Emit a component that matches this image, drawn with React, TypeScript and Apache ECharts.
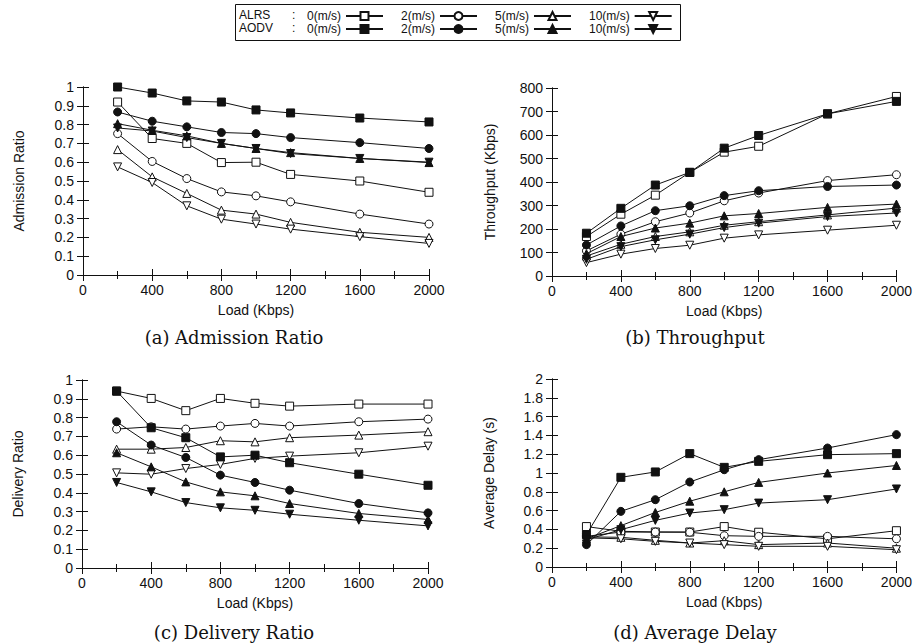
import React, { useEffect, useRef } from "react";
import * as echarts from "echarts";

const loads = [200, 400, 600, 800, 1000, 1200, 1600, 2000];
const speedNames = ["0(m/s)", "2(m/s)", "5(m/s)", "10(m/s)"];
const protocols = ["ALRS", "AODV"];

// (a) Admission Ratio
const admAlrs0 = [0.92, 0.726, 0.7, 0.598, 0.6, 0.535, 0.5, 0.44];
const admAlrs2 = [0.752, 0.604, 0.513, 0.442, 0.421, 0.389, 0.324, 0.271];
const admAlrs5 = [0.667, 0.522, 0.434, 0.345, 0.324, 0.28, 0.227, 0.2];
const admAlrs10 = [0.575, 0.492, 0.368, 0.297, 0.271, 0.244, 0.204, 0.168];
const admAodv0 = [1.0, 0.968, 0.926, 0.92, 0.878, 0.862, 0.835, 0.814];
const admAodv2 = [0.867, 0.818, 0.788, 0.758, 0.752, 0.731, 0.704, 0.673];
const admAodv5 = [0.805, 0.77, 0.74, 0.7, 0.673, 0.651, 0.62, 0.598];
const admAodv10 = [0.782, 0.766, 0.731, 0.7, 0.673, 0.646, 0.62, 0.6];

// (b) Throughput (Kbps)
const thrAlrs0 = [168, 263, 344, 441, 527, 552, 690, 764];
const thrAlrs2 = [107, 178, 231, 268, 320, 353, 406, 431];
const thrAlrs5 = [85, 135, 168, 188, 216, 231, 260, 289];
const thrAlrs10 = [57, 93, 117, 131, 161, 175, 195, 216];
const thrAodv0 = [182, 288, 387, 441, 544, 598, 690, 743];
const thrAodv2 = [132, 213, 278, 299, 342, 363, 381, 387];
const thrAodv5 = [95, 168, 204, 225, 256, 266, 292, 306];
const thrAodv10 = [71, 125, 154, 178, 206, 225, 253, 268];

// (c) Delivery Ratio
const delAlrs0 = [0.941, 0.902, 0.837, 0.902, 0.876, 0.861, 0.872, 0.872];
const delAlrs2 = [0.739, 0.751, 0.739, 0.755, 0.769, 0.755, 0.778, 0.792];
const delAlrs5 = [0.632, 0.632, 0.641, 0.677, 0.671, 0.693, 0.707, 0.725];
const delAlrs10 = [0.506, 0.499, 0.529, 0.551, 0.583, 0.595, 0.613, 0.648];
const delAodv0 = [0.941, 0.746, 0.693, 0.591, 0.6, 0.56, 0.499, 0.44];
const delAodv2 = [0.778, 0.654, 0.588, 0.494, 0.455, 0.414, 0.343, 0.293];
const delAodv5 = [0.613, 0.538, 0.458, 0.405, 0.384, 0.343, 0.29, 0.258];
const delAodv10 = [0.455, 0.405, 0.348, 0.32, 0.307, 0.286, 0.254, 0.224];

// (d) Average Delay (s)
const dlyAlrs0 = [0.43, 0.38, 0.372, 0.372, 0.43, 0.37, 0.3, 0.386];
const dlyAlrs2 = [0.326, 0.372, 0.372, 0.37, 0.333, 0.326, 0.326, 0.3];
const dlyAlrs5 = [0.32, 0.316, 0.284, 0.255, 0.28, 0.238, 0.255, 0.2];
const dlyAlrs10 = [0.31, 0.3, 0.273, 0.255, 0.238, 0.22, 0.22, 0.184];
const dlyAodv0 = [0.344, 0.954, 1.011, 1.206, 1.06, 1.124, 1.195, 1.206];
const dlyAodv2 = [0.238, 0.592, 0.716, 0.904, 1.035, 1.142, 1.266, 1.408];
const dlyAodv5 = [0.3, 0.44, 0.58, 0.7, 0.8, 0.9, 1.0, 1.08];
const dlyAodv10 = [0.29, 0.397, 0.496, 0.574, 0.61, 0.68, 0.716, 0.83];

const panelTitles = ["(a) Admission Ratio", "(b) Throughput", "(c) Delivery Ratio", "(d) Average Delay"];
const yNames = ["Admission Ratio", "Throughput (Kbps)", "Delivery Ratio", "Average Delay (s)"];
const xName = "Load (Kbps)";

const panelData = [
  [[admAlrs0, admAlrs2, admAlrs5, admAlrs10], [admAodv0, admAodv2, admAodv5, admAodv10]],
  [[thrAlrs0, thrAlrs2, thrAlrs5, thrAlrs10], [thrAodv0, thrAodv2, thrAodv5, thrAodv10]],
  [[delAlrs0, delAlrs2, delAlrs5, delAlrs10], [delAodv0, delAodv2, delAodv5, delAodv10]],
  [[dlyAlrs0, dlyAlrs2, dlyAlrs5, dlyAlrs10], [dlyAodv0, dlyAodv2, dlyAodv5, dlyAodv10]],
];

const yRanges = [
  { min: 0, max: 1, interval: 0.1 },
  { min: 0, max: 800, interval: 100 },
  { min: 0, max: 1, interval: 0.1 },
  { min: 0, max: 2, interval: 0.2 },
];

const FONT = "'Liberation Sans', Arial, Helvetica, sans-serif";
const SERIF = "'DejaVu Serif', serif";
const INK = "#111";

const grids = [
  { left: 83, top: 87, width: 346, height: 188 },
  { left: 552, top: 88, width: 346, height: 188 },
  { left: 82, top: 380, width: 346, height: 188 },
  { left: 552, top: 379, width: 346, height: 188 },
];
const yNameGaps = [57, 55, 57, 56];
const captionPos = [
  { x: 234, y: 337 },
  { x: 695, y: 337 },
  { x: 234, y: 632 },
  { x: 695, y: 632 },
];

const symbols = ["rect", "circle", "triangle", "path://M0,0L2,0L1,1.8Z"];
const symbolSizes = [8, 8, 8, 8];

function buildOption() {
  const xAxis: any[] = [];
  const yAxis: any[] = [];
  const series: any[] = [];
  const lineAx = { show: true, lineStyle: { color: INK, width: 1 } };
  const tick = { show: true, inside: true, length: 6, lineStyle: { color: INK, width: 1 } };
  const plain = (v: number) => String(Math.round(v * 1000) / 1000);

  grids.forEach((g, gi) => {
    xAxis.push({
      type: "value",
      gridIndex: gi,
      position: "bottom",
      min: 0,
      max: 2000,
      interval: 400,
      name: xName,
      nameLocation: "middle",
      nameGap: 28,
      nameTextStyle: { fontFamily: FONT, fontSize: 14, color: INK },
      axisLine: lineAx,
      axisTick: tick,
      minorTick: { show: true, splitNumber: 2, length: 4, lineStyle: { color: INK, width: 1 } },
      splitLine: { show: false },
      axisLabel: { margin: 8, fontFamily: FONT, fontSize: 14, color: INK, formatter: plain },
    });
    xAxis.push({
      type: "value",
      gridIndex: gi,
      position: "top",
      min: 0,
      max: 2000,
      interval: 400,
      axisLine: lineAx,
      axisTick: tick,
      minorTick: { show: true, splitNumber: 2, length: 4, lineStyle: { color: INK, width: 1 } },
      splitLine: { show: false },
      axisLabel: { show: false },
    });
    const r = yRanges[gi];
    yAxis.push({
      type: "value",
      gridIndex: gi,
      position: "left",
      min: r.min,
      max: r.max,
      interval: r.interval,
      name: yNames[gi],
      nameLocation: "middle",
      nameGap: yNameGaps[gi],
      nameTextStyle: { fontFamily: FONT, fontSize: 14, color: INK },
      axisLine: lineAx,
      axisTick: tick,
      splitLine: { show: false },
      axisLabel: { margin: 9, fontFamily: FONT, fontSize: 14, color: INK, formatter: plain },
    });
    yAxis.push({
      type: "value",
      gridIndex: gi,
      position: "right",
      min: r.min,
      max: r.max,
      interval: r.interval,
      axisLine: lineAx,
      axisTick: tick,
      splitLine: { show: false },
      axisLabel: { show: false },
    });

    protocols.forEach((p, pi) => {
      speedNames.forEach((s, si) => {
        const vals = panelData[gi][pi][si];
        const filled = pi === 1;
        series.push({
          type: "line",
          name: p + " " + s,
          xAxisIndex: gi * 2,
          yAxisIndex: gi * 2,
          data: loads.map((l, i) => [l, vals[i]]),
          symbol: symbols[si],
          symbolSize: symbolSizes[si],
          showSymbol: true,
          lineStyle: { color: INK, width: 1 },
          itemStyle: filled
            ? { color: INK, borderColor: INK, borderWidth: 1 }
            : { color: "#fff", borderColor: INK, borderWidth: 1 },
          emphasis: { disabled: true },
          z: filled ? 3 : 2,
        });
      });
    });
  });

  const legendBase = {
    left: 307,
    itemWidth: 37,
    itemHeight: 10,
    itemGap: 17,
    align: "right",
    padding: 0,
    selectedMode: false,
    formatter: (n: string) => n.split(" ")[1],
    textStyle: { fontFamily: FONT, fontSize: 12, color: INK },
  };

  const graphic: any[] = [
    {
      type: "rect",
      shape: { x: 235.5, y: 4.5, width: 445, height: 36 },
      style: { fill: "none", stroke: INK, lineWidth: 1 },
      silent: true,
    },
    { type: "text", x: 239, y: 15, style: { text: "ALRS", font: `12px ${FONT}`, fill: INK, verticalAlign: "middle" } },
    { type: "text", x: 292, y: 15, style: { text: ":", font: `12px ${FONT}`, fill: INK, verticalAlign: "middle" } },
    { type: "text", x: 239, y: 28, style: { text: "AODV", font: `12px ${FONT}`, fill: INK, verticalAlign: "middle" } },
    { type: "text", x: 292, y: 28, style: { text: ":", font: `12px ${FONT}`, fill: INK, verticalAlign: "middle" } },
  ];
  panelTitles.forEach((t, i) => {
    graphic.push({
      type: "text",
      x: captionPos[i].x,
      y: captionPos[i].y,
      style: { text: t, font: `18px ${SERIF}`, fill: INK, align: "center", verticalAlign: "middle" },
    });
  });

  return {
    animation: false,
    backgroundColor: "#fff",
    grid: grids.map((g) => ({ ...g, containLabel: false })),
    xAxis,
    yAxis,
    legend: [
      { ...legendBase, top: 10, data: speedNames.map((s) => "ALRS " + s) },
      { ...legendBase, top: 23, data: speedNames.map((s) => "AODV " + s) },
    ],
    graphic,
    series,
  };
}

export default function App() {
  const ref = useRef<HTMLDivElement>(null);
  useEffect(() => {
    if (!ref.current) return;
    const chart = echarts.init(ref.current, null, { renderer: "svg" });
    chart.setOption(buildOption() as any);
    return () => chart.dispose();
  }, []);
  return (
    <div
      ref={ref}
      style={{ position: "absolute", left: 0, top: 0, width: 915, height: 644, background: "#fff" }}
    />
  );
}
